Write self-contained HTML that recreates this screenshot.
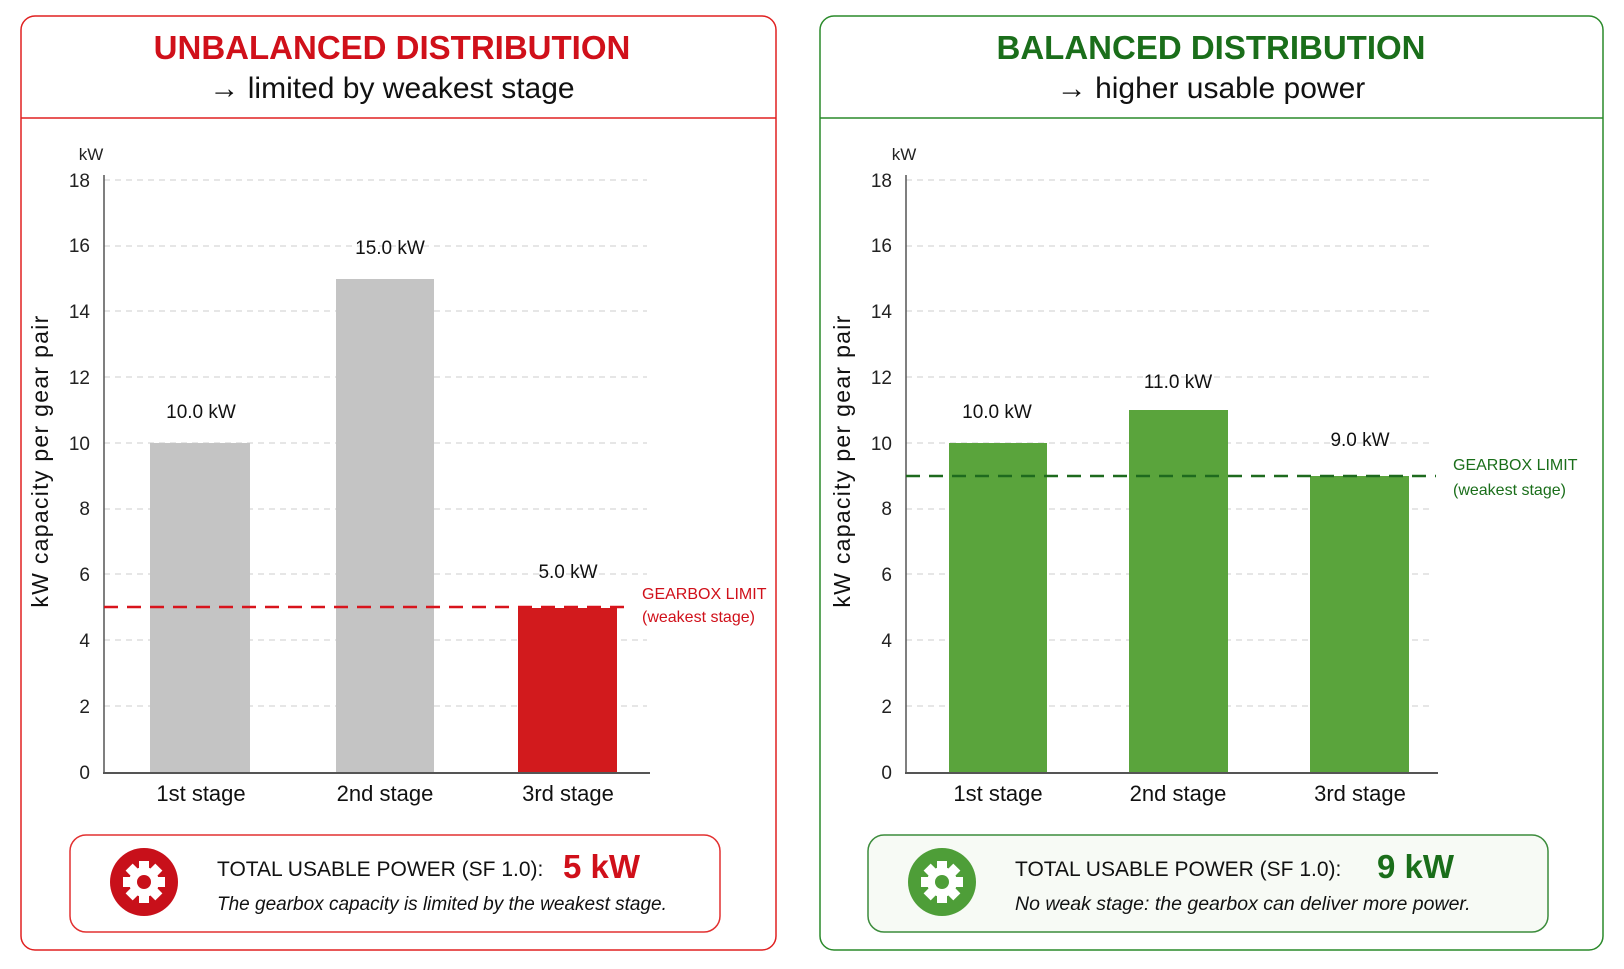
<!DOCTYPE html>
<html><head><meta charset="utf-8"><style>
html,body{margin:0;padding:0;background:#fff;}
svg{display:block;}
text{font-family:"Liberation Sans",sans-serif;}
</style></head><body>
<svg width="1624" height="969" viewBox="0 0 1624 969" xmlns="http://www.w3.org/2000/svg">
<defs>
<g id="gear">
  <circle r="15" fill="#fff"/>
  <g fill="#fff">
    <rect x="-5" y="-21" width="10" height="42"/>
    <rect x="-5" y="-21" width="10" height="42" transform="rotate(45)"/>
    <rect x="-5" y="-21" width="10" height="42" transform="rotate(90)"/>
    <rect x="-5" y="-21" width="10" height="42" transform="rotate(135)"/>
  </g>
</g>
</defs>
<rect width="1624" height="969" fill="#fff"/>

<!-- LEFT PANEL -->
<rect x="21" y="16" width="755" height="934" rx="14" fill="#fff" stroke="#e02020" stroke-width="1.5"/>
<line x1="21" y1="118" x2="776" y2="118" stroke="#e02020" stroke-width="1.5"/>
<text x="392" y="59" text-anchor="middle" font-size="33" font-weight="bold" fill="#d0101a">UNBALANCED DISTRIBUTION</text>
<text x="392" y="98" text-anchor="middle" font-size="30" fill="#111">→ limited by weakest stage</text>

<g font-size="19" fill="#222" text-anchor="end">
<text x="91" y="160" text-anchor="middle" font-size="17">kW</text>
<text x="90" y="187">18</text><text x="90" y="252">16</text><text x="90" y="318">14</text>
<text x="90" y="384">12</text><text x="90" y="450">10</text><text x="90" y="515">8</text>
<text x="90" y="581">6</text><text x="90" y="647">4</text><text x="90" y="713">2</text><text x="90" y="779">0</text>
</g>
<g stroke="#d8d8d8" stroke-width="1.3" stroke-dasharray="6,5">
<line x1="104" y1="180" x2="647" y2="180"/><line x1="104" y1="246" x2="647" y2="246"/>
<line x1="104" y1="311" x2="647" y2="311"/><line x1="104" y1="377" x2="647" y2="377"/>
<line x1="104" y1="443" x2="647" y2="443"/><line x1="104" y1="509" x2="647" y2="509"/>
<line x1="104" y1="574" x2="647" y2="574"/><line x1="104" y1="640" x2="647" y2="640"/>
<line x1="104" y1="706" x2="647" y2="706"/>
</g>
<rect x="150" y="443" width="100" height="329" fill="#c4c4c4"/>
<rect x="336" y="279" width="98" height="493" fill="#c4c4c4"/>
<rect x="518" y="608" width="99" height="164" fill="#d21a1d"/>
<line x1="104" y1="175" x2="104" y2="773" stroke="#555" stroke-width="1.5"/>
<line x1="103" y1="773" x2="650" y2="773" stroke="#555" stroke-width="2"/>
<line x1="104" y1="607" x2="630" y2="607" stroke="#d8141c" stroke-width="2.5" stroke-dasharray="14,9"/>
<g font-size="19" fill="#111" text-anchor="middle">
<text x="201" y="418">10.0 kW</text><text x="390" y="254">15.0 kW</text><text x="568" y="578">5.0 kW</text>
</g>
<g font-size="22" fill="#111" text-anchor="middle">
<text x="201" y="801">1st stage</text><text x="385" y="801">2nd stage</text><text x="568" y="801">3rd stage</text>
</g>
<text x="642" y="599" font-size="16" fill="#d0101a">GEARBOX LIMIT</text>
<text x="642" y="622" font-size="16" fill="#d0101a">(weakest stage)</text>
<text transform="translate(48,461) rotate(-90)" text-anchor="middle" font-size="23" letter-spacing="1.3" fill="#111">kW capacity per gear pair</text>

<rect x="70" y="835" width="650" height="97" rx="16" fill="#fff" stroke="#e23030" stroke-width="1.5"/>
<circle cx="144" cy="882" r="34" fill="#c8101a"/>
<use href="#gear" x="144" y="882"/>
<circle cx="144" cy="882" r="7" fill="#c8101a"/>
<text x="217" y="876" font-size="21" fill="#111">TOTAL USABLE POWER (SF 1.0):</text>
<text x="563" y="878" font-size="33" font-weight="bold" fill="#d0101a">5 kW</text>
<text x="217" y="910" font-size="19" font-style="italic" fill="#111">The gearbox capacity is limited by the weakest stage.</text>

<!-- RIGHT PANEL -->
<rect x="820" y="16" width="783" height="934" rx="14" fill="#fff" stroke="#2a8a2a" stroke-width="1.5"/>
<line x1="820" y1="118" x2="1603" y2="118" stroke="#2a8a2a" stroke-width="1.5"/>
<text x="1211" y="59" text-anchor="middle" font-size="33" font-weight="bold" fill="#1a6e1a">BALANCED DISTRIBUTION</text>
<text x="1211" y="98" text-anchor="middle" font-size="30" fill="#111">→ higher usable power</text>

<g font-size="19" fill="#222" text-anchor="end">
<text x="904" y="160" text-anchor="middle" font-size="17">kW</text>
<text x="892" y="187">18</text><text x="892" y="252">16</text><text x="892" y="318">14</text>
<text x="892" y="384">12</text><text x="892" y="450">10</text><text x="892" y="515">8</text>
<text x="892" y="581">6</text><text x="892" y="647">4</text><text x="892" y="713">2</text><text x="892" y="779">0</text>
</g>
<g stroke="#d8d8d8" stroke-width="1.3" stroke-dasharray="6,5">
<line x1="906" y1="180" x2="1434" y2="180"/><line x1="906" y1="246" x2="1434" y2="246"/>
<line x1="906" y1="311" x2="1434" y2="311"/><line x1="906" y1="377" x2="1434" y2="377"/>
<line x1="906" y1="443" x2="1434" y2="443"/><line x1="906" y1="509" x2="1434" y2="509"/>
<line x1="906" y1="574" x2="1434" y2="574"/><line x1="906" y1="640" x2="1434" y2="640"/>
<line x1="906" y1="706" x2="1434" y2="706"/>
</g>
<rect x="949" y="443" width="98" height="329" fill="#5aa43c"/>
<rect x="1129" y="410" width="99" height="362" fill="#5aa43c"/>
<rect x="1310" y="476" width="99" height="296" fill="#5aa43c"/>
<line x1="906" y1="175" x2="906" y2="773" stroke="#555" stroke-width="1.5"/>
<line x1="905" y1="773" x2="1438" y2="773" stroke="#555" stroke-width="2"/>
<line x1="906" y1="476" x2="1436" y2="476" stroke="#1e6a1e" stroke-width="2.5" stroke-dasharray="14,9"/>
<g font-size="19" fill="#111" text-anchor="middle">
<text x="997" y="418">10.0 kW</text><text x="1178" y="388">11.0 kW</text><text x="1360" y="446">9.0 kW</text>
</g>
<g font-size="22" fill="#111" text-anchor="middle">
<text x="998" y="801">1st stage</text><text x="1178" y="801">2nd stage</text><text x="1360" y="801">3rd stage</text>
</g>
<text x="1453" y="470" font-size="16" fill="#1a6e1a">GEARBOX LIMIT</text>
<text x="1453" y="495" font-size="16" fill="#1a6e1a">(weakest stage)</text>
<text transform="translate(850,461) rotate(-90)" text-anchor="middle" font-size="23" letter-spacing="1.3" fill="#111">kW capacity per gear pair</text>

<rect x="868" y="835" width="680" height="97" rx="16" fill="#f7faf5" stroke="#3c8c3c" stroke-width="1.5"/>
<circle cx="942" cy="882" r="34" fill="#4e9e38"/>
<use href="#gear" x="942" y="882"/>
<circle cx="942" cy="882" r="7" fill="#4e9e38"/>
<text x="1015" y="876" font-size="21" fill="#111">TOTAL USABLE POWER (SF 1.0):</text>
<text x="1377" y="878" font-size="33" font-weight="bold" fill="#1a6e1a">9 kW</text>
<text x="1015" y="910" font-size="19.5" font-style="italic" fill="#111">No weak stage: the gearbox can deliver more power.</text>
</svg>
</body></html>
